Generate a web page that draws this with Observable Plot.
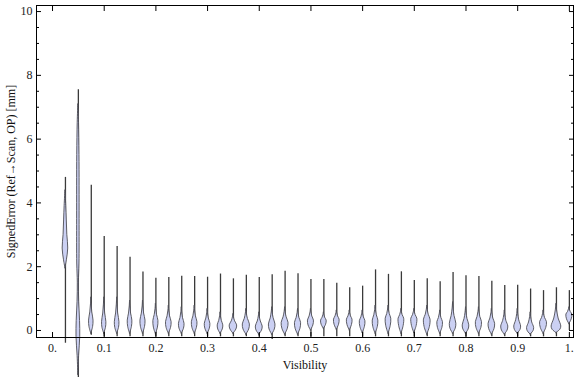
<!DOCTYPE html>
<html><head><meta charset="utf-8">
<script src="https://cdn.jsdelivr.net/npm/d3@7"></script>
<script src="https://cdn.jsdelivr.net/npm/@observablehq/plot@0.6"></script>
<style>body{margin:0;background:#fff}svg{display:block}</style>
</head><body><div id="chart"></div>
<script>
// Violin centres (Visibility bins)
const visibility = [0.025,0.05,0.075,0.1,0.125,0.15,0.175,0.2,0.225,0.25,0.275,0.3,0.325,0.35,0.375,0.4,0.425,0.45,0.475,0.5,
  0.525,0.55,0.575,0.6,0.625,0.65,0.675,0.7,0.725,0.75,0.775,0.8,0.825,0.85,0.875,0.9,0.925,0.95,0.975,1.0];
// extent of each distribution (mm)
const errMin = [-0.4,-1.6,-0.15,-0.2,-0.2,-0.2,-0.2,-0.2,-0.2,-0.2,-0.2,-0.2,-0.2,-0.2,-0.2,-0.2,-0.28,-0.2,-0.2,-0.2,
  -0.2,-0.2,-0.2,-0.2,-0.2,-0.2,-0.2,-0.2,-0.2,-0.2,-0.2,-0.2,-0.2,-0.2,-0.2,-0.2,-0.2,-0.2,-0.2,0.0];
const errMax = [4.8,7.55,4.55,2.95,2.63,2.30,1.83,1.64,1.66,1.70,1.69,1.67,1.77,1.62,1.73,1.66,1.75,1.86,1.78,1.60,
  1.60,1.48,1.34,1.39,1.90,1.76,1.84,1.57,1.62,1.53,1.82,1.72,1.69,1.54,1.41,1.42,1.30,1.25,1.34,1.25];
// bulk of the density: lower end, mode, upper end, relative density at mode
const bodyBottom = [1.95,-1.4,-0.10,-0.10,-0.10,-0.10,-0.10,-0.12,-0.10,-0.10,-0.10,-0.10,-0.10,-0.10,-0.13,-0.13,-0.13,-0.13,-0.13,0.0,
  0.05,0.02,0.0,-0.08,-0.10,-0.10,-0.10,-0.08,-0.13,-0.10,-0.10,-0.10,-0.10,-0.13,-0.13,-0.10,-0.13,-0.10,-0.08,0.2];
const bodyMode = [2.57,0.3,0.31,0.26,0.26,0.31,0.31,0.30,0.26,0.21,0.26,0.21,0.16,0.16,0.19,0.125,0.19,0.24,0.24,0.31,
  0.31,0.34,0.34,0.29,0.31,0.37,0.37,0.37,0.34,0.26,0.21,0.16,0.26,0.21,0.125,0.125,0.08,0.26,0.125,0.5];
const bodyTop = [4.4,7.1,1.04,1.04,1.04,0.94,0.94,0.84,0.78,0.73,0.78,0.68,0.57,0.52,0.68,0.57,0.73,0.73,0.68,0.68,
  0.57,0.63,0.63,0.63,0.78,0.78,0.68,0.68,0.78,0.63,0.89,0.73,0.73,0.68,0.63,0.68,0.57,0.63,0.84,0.73];
const modeDensity = [0.75,0.58,0.60,0.58,0.62,0.62,0.68,0.68,0.75,0.75,0.75,0.75,0.75,1.0,0.95,0.92,0.88,0.92,0.82,0.80,
  0.75,0.75,0.75,0.75,0.75,0.75,0.75,0.80,0.88,0.75,0.88,0.88,0.82,0.88,0.95,0.92,0.95,0.92,1.3,0.80];
// measured outlines of the two irregular low-visibility violins: [error, density]
const profileV1 = [[1.95,0],[2.2,0.38],[2.57,0.75],[3.0,0.5],[3.45,0.36],[3.9,0.22],[4.4,0]];
const profileV2 = [[-1.4,0],[-0.8,0.2],[-0.2,0.5],[0.3,0.45],[0.9,0.22],[1.5,0.15],[2.1,0.3],[3.5,0.33],[5.5,0.3],[6.5,0.18],[7.1,0]];

const xTickValues = [0,0.1,0.2,0.3,0.4,0.5,0.6,0.7,0.8,0.9,1];
const xTickLabels = ["0.","0.1","0.2","0.3","0.4","0.5","0.6","0.7","0.8","0.9","1."];
const yTickValues = [0,2,4,6,8,10];
const yTickLabels = ["0","2","4","6","8","10"];
const yMinorTicks = [0.5,1,1.5,2.5,3,3.5,4.5,5,5.5,6.5,7,7.5,8.5,9,9.5];

const halfWidth = 0.0072; // visibility units for density 1

const outline = [];
visibility.forEach((c, i) => {
  let prof;
  if (i === 0) prof = profileV1;
  else if (i === 1) prof = profileV2;
  else {
    const b = bodyBottom[i], p = bodyMode[i], t = bodyTop[i], d = modeDensity[i];
    prof = [[b,0],[b + 0.5*(p-b), 0.8*d],[p,d],[p + 0.35*(t-p), 0.45*d],[p + 0.7*(t-p), 0.14*d],[t,0]];
  }
  prof.forEach(([v, d]) => outline.push({id: i, y: v, x1: c - d*halfWidth, x2: c + d*halfWidth}));
});
const spans = visibility.map((c, i) => ({x: c, y1: errMin[i], y2: errMax[i]}));

const font = "'Liberation Serif', 'Times New Roman', serif";
const chart = Plot.plot({
  width: 576, height: 377,
  marginLeft: 36, marginRight: 3, marginTop: 5, marginBottom: 40,
  style: {fontFamily: font, fontSize: "12px", background: "#fff", overflow: "visible"},
  x: {domain: [-0.031, 1.008], axis: null},
  y: {domain: [-0.22, 10.19], axis: null},
  marks: [
    Plot.ruleX(spans, {x: "x", y1: "y1", y2: "y2", stroke: "#3a3a3a", strokeWidth: 1.3}),
    Plot.areaX(outline, {y: "y", x1: "x1", x2: "x2", z: "id", curve: "catmull-rom",
      fill: "#cbd0f3", stroke: "#4d4d55", strokeWidth: 0.9}),
    Plot.frame({stroke: "#000", strokeWidth: 1}),
    Plot.axisX({ticks: xTickValues, tickSize: -5, tickPadding: 11, tickFormat: (d, i) => xTickLabels[i],
      fill: "#222", stroke: "#000", fontSize: 12}),
    Plot.axisX({anchor: "top", ticks: xTickValues, tickSize: -5, tickFormat: () => "", stroke: "#000"}),
    Plot.axisY({ticks: yTickValues, tickSize: -5, tickPadding: 9, tickFormat: (d, i) => yTickLabels[i],
      fill: "#222", stroke: "#000", fontSize: 12}),
    Plot.axisY({ticks: yMinorTicks, tickSize: -3, tickFormat: () => "", stroke: "#000"}),
    Plot.axisY({anchor: "right", ticks: yTickValues, tickSize: -5, tickFormat: () => "", stroke: "#000"}),
    Plot.axisY({anchor: "right", ticks: yMinorTicks, tickSize: -3, tickFormat: () => "", stroke: "#000"}),
    Plot.text(["Visibility"], {frameAnchor: "bottom", dy: 31, fill: "#111", fontSize: 12}),
    Plot.text(["SignedError (Ref\u2192Scan, OP) [mm]"], {frameAnchor: "left", dx: -25, rotate: -90,
      textAnchor: "middle", fill: "#111", fontSize: 12})
  ]
});
document.getElementById("chart").appendChild(chart);
</script>
</body></html>
